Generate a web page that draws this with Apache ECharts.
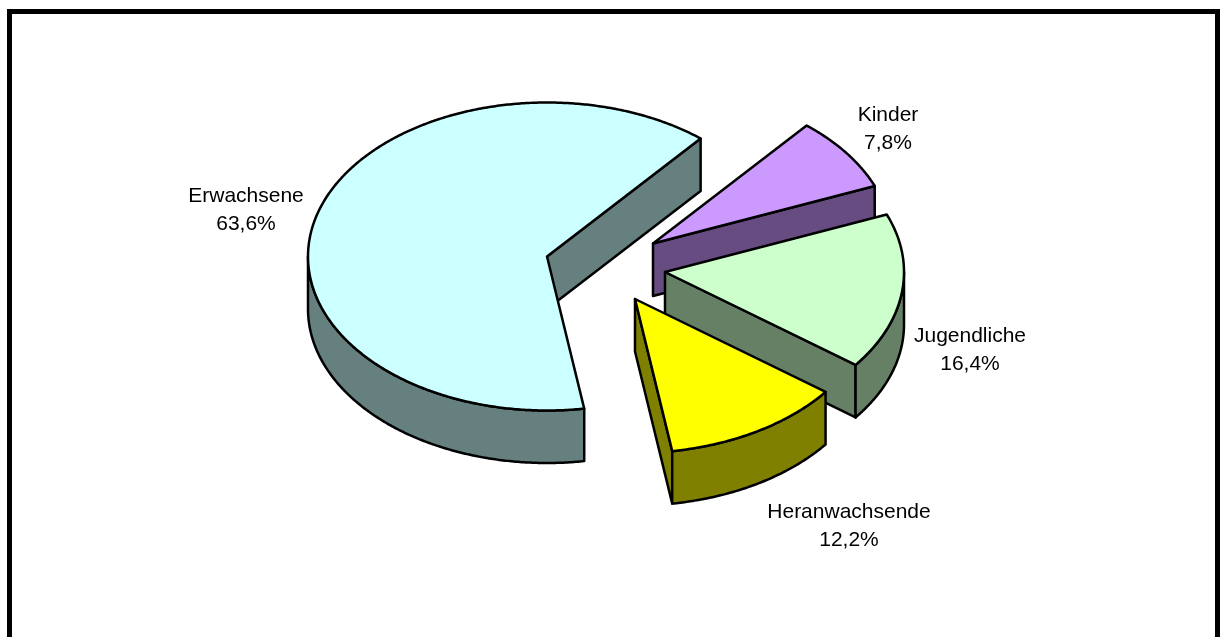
<!DOCTYPE html>
<html>
<head>
<meta charset="utf-8">
<style>html,body{margin:0;padding:0;background:#fff}#c{width:1221px;height:637px}</style>
<script src="https://cdn.jsdelivr.net/npm/echarts@6/dist/echarts.min.js"></script>
</head>
<body>
<div id="c"></div>
<script>
const categories = ['Kinder', 'Jugendliche', 'Heranwachsende', 'Erwachsene'];
const shares = [7.8, 16.4, 12.2, 63.6];
const startAngleDeg = 40;
const topColors = ['#CC99FF', '#CCFFCC', '#FFFF00', '#CCFFFF'];
const sideColors = ['#664C80', '#668066', '#808000', '#668080'];
const explodeOffsets = [[106, -13], [118, 15.5], [88, 42.5], [0, 0]];
const labelCentres = [[888, 129], [970, 350], [849, 526], [246, 210]];
const drawOrder = [3, 0, 1, 2];

const CX = 547, CY = 256.5, RX = 239, RY = 154, DEPTH = 52.5, LW = 2.5;
const total = shares.reduce((a, b) => a + b, 0);
const rad = d => d * Math.PI / 180;

const spans = [];
let acc = startAngleDeg;
shares.forEach(v => { const s = acc; acc += v / total * 360; spans.push([s, acc]); });

function rim(ax, ay, deg) {
  return [ax + RX * Math.sin(rad(deg)), ay - RY * Math.cos(rad(deg))];
}
function arc(ax, ay, a, b, dy) {
  const n = Math.max(2, Math.ceil(Math.abs(b - a) * 2)), pts = [];
  for (let i = 0; i <= n; i++) {
    const p = rim(ax, ay, a + (b - a) * i / n);
    pts.push([p[0], p[1] + (dy || 0)]);
  }
  return pts;
}
function poly(points, fill, z2) {
  return {
    type: 'polygon', z2,
    shape: { points },
    style: { fill, stroke: '#000', lineWidth: LW, lineJoin: 'round' }
  };
}
function renderSlice(params, api) {
  const i = api.value(0);
  const [s, e] = spans[i];
  const ax = CX + explodeOffsets[i][0], ay = CY + explodeOffsets[i][1];
  const children = [];
  // cut face at the end angle, shown when it turns toward the viewer
  if (Math.sin(rad(e)) > 0) {
    const r = rim(ax, ay, e);
    children.push(poly([[ax, ay], r, [r[0], r[1] + DEPTH], [ax, ay + DEPTH]], sideColors[i], 1));
  }
  if (Math.sin(rad(s)) < 0) {
    const r = rim(ax, ay, s);
    children.push(poly([[ax, ay], r, [r[0], r[1] + DEPTH], [ax, ay + DEPTH]], sideColors[i], 1));
  }
  // outer wall: only the front half of the rim (90..270 deg, modulo 360)
  [0, 360].forEach(k => {
    const a = Math.max(s, 90 + k), b = Math.min(e, 270 + k);
    if (b > a) {
      children.push(poly(arc(ax, ay, a, b, 0).concat(arc(ax, ay, b, a, DEPTH)), sideColors[i], 2));
    }
  });
  // top face
  children.push(poly([[ax, ay]].concat(arc(ax, ay, s, e, 0)), topColors[i], 3));
  // label
  children.push({
    type: 'text', z2: 4,
    style: {
      text: categories[i] + '\n' + shares[i].toFixed(1).replace('.', ',') + '%',
      x: labelCentres[i][0], y: labelCentres[i][1],
      align: 'center', verticalAlign: 'middle',
      font: '21px "Liberation Sans", Arial, sans-serif',
      lineHeight: 28.5, fill: '#000'
    }
  });
  return { type: 'group', children };
}

const chart = echarts.init(document.getElementById('c'), null, { renderer: 'canvas' });
chart.setOption({
  animation: false,
  backgroundColor: '#fff',
  graphic: [{
    type: 'rect', silent: true, z: 100,
    shape: { x: 9.5, y: 11.5, width: 1208, height: 660 },
    style: { fill: 'none', stroke: '#000', lineWidth: 5 }
  }],
  series: [{
    type: 'custom',
    coordinateSystem: 'none',
    renderItem: renderSlice,
    data: drawOrder.map(i => [i, shares[i]]),
    encode: { value: 1, itemName: 0 }
  }]
});
</script>
</body>
</html>
